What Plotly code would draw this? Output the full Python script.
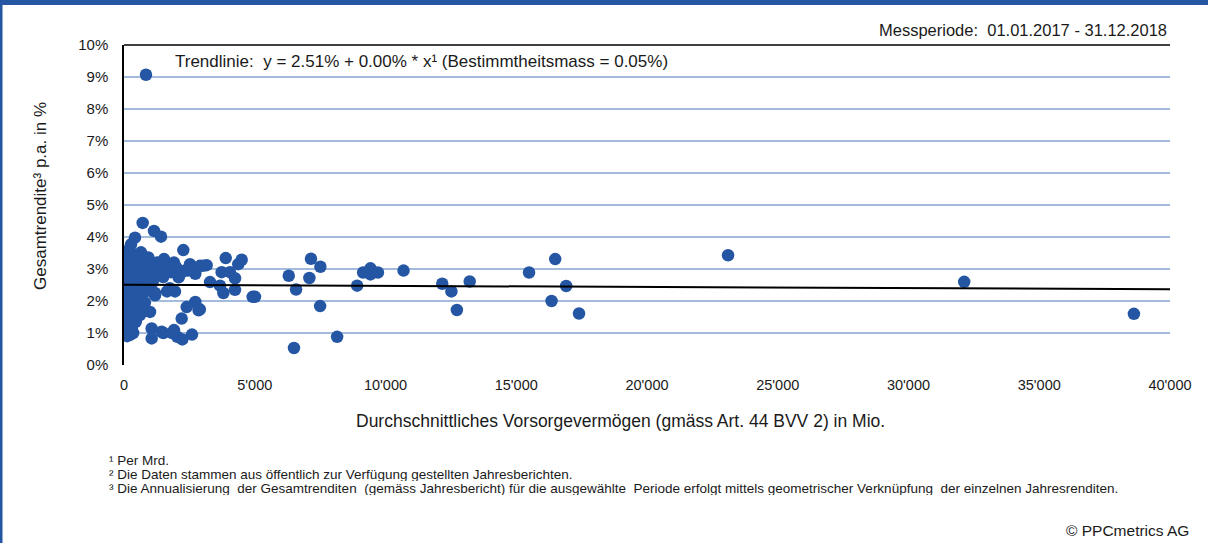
import plotly.graph_objects as go

# ---------------- data (x: average pension assets in Mio. CHF, y: total return p.a. in %) -------------
vermoegen_mio = [
    # outliers / mid and large funds
    841, 23100, 32130, 38620, 17400, 16910, 16490, 16350, 15490, 13220, 12730, 12520, 12170,
    10690, 9710, 9425, 9425, 9145, 8915, 8150, 7510, 7150, 7090, 7500, 6580, 6300, 6500,
    # 3'000 - 5'000
    3020, 3160, 3890, 4500, 4370, 3735, 4050, 4245, 3290, 3670, 3800, 4245, 4920, 5010, 2900,
    # small funds cluster
    714, 1147, 1415, 421, 268, 2269, 102, 650, 930, 1262, 1530, 1912, 2524, 2906, 38, 20,
    421, 803, 1058, 1262, 1645, 2090, 2345, 2727, 38, 229, 421, 739, 1186, 1645, 166, 548,
    995, 166, 612, 2727, 2397, 2855, 2206, 102, 293, 229, 1058, 1440, 1058, 1912, 2039, 2230,
    2600, 60, 150, 250, 350, 500, 600, 700, 850, 950, 150, 300, 500, 700, 900, 1100, 1350,
    1500, 1800, 2000, 2150, 60, 200, 350, 600, 850, 1000, 300, 450, 800, 100, 350, 700, 250,
    450, 150, 350, 120, 400, 180, 300, 800, 1700, 2450, 2600, 1750, 1950, 1186, 153, 293, 1504,
    1835, 30, 60, 90,
]
rendite_pct = [
    9.07, 3.43, 2.60, 1.60, 1.61, 2.47, 3.31, 2.00, 2.89, 2.61, 1.72, 2.30, 2.54,
    2.95, 2.89, 3.02, 2.83, 2.89, 2.48, 0.88, 3.07, 3.32, 2.72, 1.84, 2.36, 2.79, 0.53,
    3.10, 3.12, 3.34, 3.29, 3.15, 2.90, 2.90, 2.71, 2.59, 2.48, 2.25, 2.35, 2.13, 2.13, 1.74,
    4.44, 4.19, 4.01, 3.98, 3.77, 3.59, 3.36, 3.52, 3.36, 3.20, 3.31, 3.20, 3.15, 3.10, 3.05, 2.80,
    2.90, 3.00, 3.10, 2.85, 2.95, 2.74, 2.95, 2.85, 2.48, 2.33, 2.18, 2.23, 2.18, 2.30, 1.97, 1.92,
    1.66, 1.61, 1.56, 1.97, 1.81, 1.71, 1.45, 1.30, 1.14, 0.94, 1.14, 1.04, 0.83, 1.09, 0.88, 0.80,
    0.95, 3.25, 3.15, 3.05, 3.20, 3.10, 2.95, 3.15, 3.25, 2.95, 2.90, 2.75, 2.65, 2.55, 2.70, 2.60, 2.95,
    2.75, 2.90, 3.05, 2.85, 2.65, 2.55, 2.45, 2.35, 2.40, 2.50, 2.05, 1.85, 1.95, 1.80, 1.70, 1.75, 1.45,
    1.35, 1.15, 1.00, 0.90, 3.45, 3.60, 3.30, 3.30, 3.15, 2.95, 3.00, 2.40, 2.30, 2.25, 1.62, 1.16, 1.00,
    1.00, 2.60, 2.10, 1.25,
]

# trend line as printed/: y = 2.51% + slope * x
trend_intercept_pct = 2.51
trend_slope_pct_per_mio = -0.0000036
x_range = [0, 40000]
x_tickvals = [0, 5000, 10000, 15000, 20000, 25000, 30000, 35000, 40000]
x_ticktext = ["0", "5'000", "10'000", "15'000", "20'000", "25'000", "30'000", "35'000", "40'000"]
y_tickvals = [0, 1, 2, 3, 4, 5, 6, 7, 8, 9, 10]
y_ticktext = ["0%", "1%", "2%", "3%", "4%", "5%", "6%", "7%", "8%", "9%", "10%"]

BLUE = "#2456A4"
GRID = "#A3BCDD"
FONT = "Liberation Sans, Arial, sans-serif"
TXT = "#1a1a1a"

W, H = 1208, 543
ML, MR, MT, MB = 124, 38, 45, 178
PW, PH = W - ML - MR, H - MT - MB

def px_x(p):  # pixel -> paper x
    return (p - ML) / PW

def px_y(p):  # pixel -> paper y
    return (H - MB - p) / PH

fig = go.Figure()

trend_x = x_range
trend_y = [trend_intercept_pct + trend_slope_pct_per_mio * v for v in trend_x]

fig.add_trace(go.Scatter(
    x=vermoegen_mio, y=rendite_pct, mode="markers",
    marker=dict(color=BLUE, size=12.5, line=dict(width=0)),
    showlegend=False, hoverinfo="x+y",
))
fig.add_trace(go.Scatter(
    x=trend_x, y=trend_y, mode="lines",
    line=dict(color="black", width=2), showlegend=False, hoverinfo="skip",
))

fig.update_layout(
    width=W, height=H,
    margin=dict(l=ML, r=MR, t=MT, b=MB, pad=0),
    paper_bgcolor="white", plot_bgcolor="white",
    font=dict(family=FONT, size=15, color=TXT),
    xaxis=dict(
        range=x_range, tickvals=x_tickvals, ticktext=x_ticktext,
        showgrid=False, zeroline=False, showline=False,
        ticks="", ticklabelstandoff=9, tickfont=dict(size=14.5),
    ),
    yaxis=dict(
        range=[0, 10], tickvals=y_tickvals, ticktext=y_ticktext,
        showgrid=True, gridcolor=GRID, gridwidth=1.5,
        zeroline=False, showline=True, linecolor="black", linewidth=1.5,
        ticks="", ticklabelstandoff=11, tickfont=dict(size=15),
    ),
    shapes=[
        # top border line of plot area (at 10%)
        dict(type="line", xref="paper", yref="paper", x0=0, x1=1, y0=1, y1=1,
             line=dict(color="black", width=1.5), layer="above"),
        # blue frame: top bar and left edge
        dict(type="rect", xref="paper", yref="paper", x0=px_x(0), x1=px_x(W), y0=px_y(5), y1=px_y(-2),
             fillcolor=BLUE, line=dict(width=0)),
        dict(type="rect", xref="paper", yref="paper", x0=px_x(-2), x1=px_x(2.5), y0=px_y(H + 2), y1=px_y(0),
             fillcolor=BLUE, line=dict(width=0)),
    ],
)

ann = []
ann.append(dict(text="Messperiode:  01.01.2017 - 31.12.2018", x=px_x(1169), y=px_y(30),
                xanchor="right", yanchor="middle", font=dict(size=16.5)))
ann.append(dict(text="Trendlinie:  y = 2.51% + 0.00% * x¹ (Bestimmtheitsmass = 0.05%)",
                x=px_x(173), y=px_y(61), xanchor="left", yanchor="middle", font=dict(size=17)))
ann.append(dict(text="Durchschnittliches Vorsorgevermögen (gmäss Art. 44 BVV 2) in Mio.",
                x=px_x(620), y=px_y(421), xanchor="center", yanchor="middle", font=dict(size=17.5)))
ann.append(dict(text="Gesamtrendite³ p.a. in %", x=px_x(40), y=px_y(196), textangle=-90,
                xanchor="center", yanchor="middle", font=dict(size=17)))
NB = "\u00a0"
foot = [
    "¹ Per Mrd.",
    "² Die Daten stammen aus öffentlich zur Verfügung gestellten Jahresberichten.",
    "³ Die Annualisierung" + NB + " der Gesamtrenditen" + NB + " (gemäss Jahresbericht) für die ausgewählte"
    + NB + " Periode erfolgt mittels geometrischer Verknüpfung" + NB + " der einzelnen Jahresrenditen.",
]
for i, t in enumerate(foot):
    ann.append(dict(text=t, x=px_x(107), y=px_y(459.5 + 14 * i), xanchor="left", yanchor="middle",
                    height=14, valign="middle", font=dict(size=13.5)))
ann.append(dict(text="© PPCmetrics AG", x=px_x(1191), y=px_y(530), xanchor="right", yanchor="middle",
                font=dict(size=15.5)))
for a in ann:
    a.update(xref="paper", yref="paper", showarrow=False)
fig.update_layout(annotations=ann)

fig.write_html("out.html", config={"displayModeBar": False},
               post_script="document.body.style.margin='0';")
